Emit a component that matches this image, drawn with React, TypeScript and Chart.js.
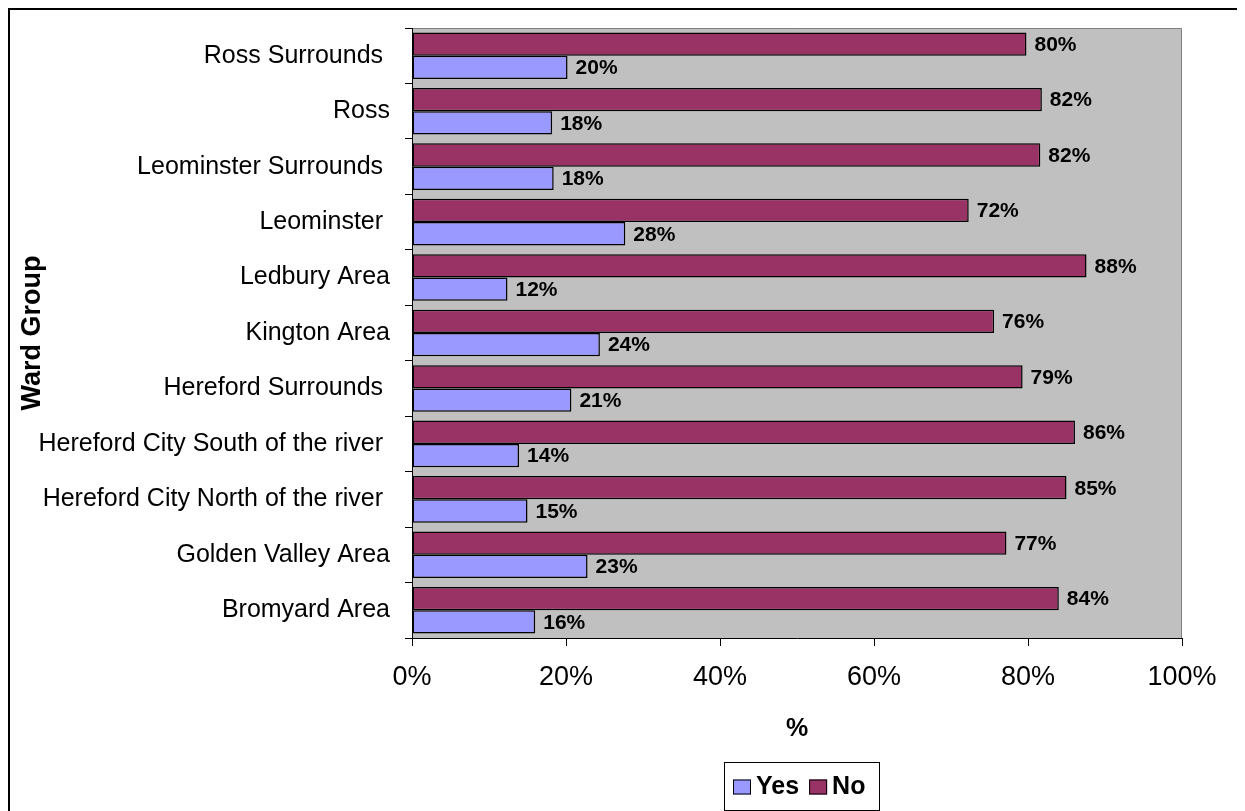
import React, { useEffect, useRef } from "react";
import { Chart, registerables } from "chart.js";

Chart.register(...registerables);

const categories = [
  "Ross Surrounds ",
  "Ross",
  "Leominster Surrounds ",
  "Leominster ",
  "Ledbury Area",
  "Kington Area",
  "Hereford Surrounds ",
  "Hereford City South of the river ",
  "Hereford City North of the river ",
  "Golden Valley Area",
  "Bromyard Area",
];
const yesValues = [20.2, 18.2, 18.4, 27.7, 12.4, 24.4, 20.7, 13.9, 15.0, 22.8, 16.0];
const noValues = [79.8, 81.8, 81.6, 72.3, 87.6, 75.6, 79.3, 86.1, 85.0, 77.2, 84.0];
const xTickValues = [0, 20, 40, 60, 80, 100];
const seriesYes = "Yes";
const seriesNo = "No";
const yTitle = "Ward Group";
const xTitle = "%";

const FONT = "'Liberation Sans', Arial, Helvetica, sans-serif";
const YES_COLOR = "#9999FF";
const NO_COLOR = "#993366";

const plotBackground = {
  id: "plotBackground",
  beforeDraw(chart: any) {
    const { ctx, chartArea: a } = chart;
    ctx.save();
    ctx.fillStyle = "#C0C0C0";
    ctx.fillRect(a.left, a.top, a.right - a.left, a.bottom - a.top);
    ctx.strokeStyle = "#808080";
    ctx.lineWidth = 1;
    ctx.beginPath();
    ctx.moveTo(a.left, a.top + 0.5);
    ctx.lineTo(a.right - 0.5, a.top + 0.5);
    ctx.lineTo(a.right - 0.5, a.bottom);
    ctx.stroke();
    ctx.restore();
  },
};

const dataLabels = {
  id: "dataLabels",
  afterDatasetsDraw(chart: any) {
    const ctx = chart.ctx;
    ctx.save();
    ctx.font = `bold 21px ${FONT}`;
    ctx.fillStyle = "#000";
    ctx.textAlign = "left";
    ctx.textBaseline = "middle";
    chart.data.datasets.forEach((ds: any, i: number) => {
      const meta = chart.getDatasetMeta(i);
      meta.data.forEach((el: any, j: number) => {
        const v = ds.data[j] as number;
        ctx.fillText(Math.round(v) + "%", el.x + 8, el.y + 1);
      });
    });
    ctx.restore();
  },
};

const frameAndLegend = {
  id: "frameAndLegend",
  afterDraw(chart: any) {
    const { ctx, chartArea: a, width, height } = chart;
    ctx.save();
    // outer frame
    ctx.strokeStyle = "#000";
    ctx.lineWidth = 2;
    ctx.strokeRect(1, 1, width - 2, height - 2);

    // legend (Yes first, then No)
    const items = [...chart.data.datasets].reverse();
    ctx.font = `bold 25px ${FONT}`;
    const padL = 9;
    const box = 18;
    const boxH = 15;
    const gapText = 5;
    const gapItem = 10;
    const padR = 14;
    let contentW = padL + padR;
    items.forEach((ds: any, i: number) => {
      contentW += box + gapText + ctx.measureText(ds.label).width;
      if (i < items.length - 1) contentW += gapItem;
    });
    const cx = (a.left + a.right) / 2 + 5;
    const top = a.bottom + 124;
    const h = 48;
    const left = Math.round(cx - contentW / 2);
    ctx.strokeStyle = "#000";
    ctx.lineWidth = 1;
    ctx.strokeRect(left + 0.5, top + 0.5, Math.round(contentW), h);
    const cy = top + h / 2;
    let x = left + padL;
    ctx.textAlign = "left";
    ctx.textBaseline = "middle";
    items.forEach((ds: any) => {
      ctx.fillStyle = ds.backgroundColor;
      ctx.fillRect(x, cy - boxH / 2 + 1, box, boxH);
      ctx.strokeStyle = "#000";
      ctx.strokeRect(x + 0.5, cy - boxH / 2 + 1.5, box - 1, boxH - 1);
      x += box + gapText;
      ctx.fillStyle = "#000";
      ctx.fillText(ds.label, x, cy + 1);
      x += ctx.measureText(ds.label).width + gapItem;
    });
    ctx.restore();
  },
};

export default function App() {
  const canvasRef = useRef<HTMLCanvasElement | null>(null);

  useEffect(() => {
    document.documentElement.style.overflow = "hidden";
    const canvas = canvasRef.current;
    if (!canvas) return;
    const chart = new Chart(canvas, {
      type: "bar",
      data: {
        labels: categories,
        datasets: [
          {
            label: seriesNo,
            data: noValues,
            backgroundColor: NO_COLOR,
            borderColor: "#000",
            borderWidth: 1.5,
            borderSkipped: false,
            categoryPercentage: 0.84,
            barPercentage: 1,
          },
          {
            label: seriesYes,
            data: yesValues,
            backgroundColor: YES_COLOR,
            borderColor: "#000",
            borderWidth: 1.5,
            borderSkipped: false,
            categoryPercentage: 0.84,
            barPercentage: 1,
          },
        ],
      },
      options: {
        indexAxis: "y",
        animation: false,
        responsive: false,
        devicePixelRatio: 1,
        layout: { padding: { top: 20, right: 60, left: 0, bottom: 0 } },
        plugins: {
          legend: { display: false },
          tooltip: { enabled: false },
        },
        scales: {
          x: {
            type: "linear",
            position: "bottom",
            min: 0,
            max: 100,
            afterBuildTicks: (s: any) => {
              s.ticks = xTickValues.map((v) => ({ value: v }));
            },
            ticks: {
              callback: (v: any) => v + "%",
              font: { size: 27, family: FONT },
              color: "#000",
              padding: 15,
              maxRotation: 0,
            },
            grid: {
              drawOnChartArea: false,
              drawTicks: true,
              tickLength: 8,
              color: "#000",
            },
            border: { display: true, color: "#000", width: 1 },
            title: {
              display: true,
              text: xTitle,
              color: "#000",
              font: { size: 25, weight: "bold", family: FONT },
              padding: { top: 0, bottom: 74 },
            },
            afterFit: (s: any) => {
              s.height = 180;
              s.paddingLeft = 0;
            },
          },
          y: {
            type: "category",
            position: "left",
            ticks: {
              font: { size: 25, family: FONT },
              color: "#000",
              padding: 15,
              autoSkip: false,
            },
            grid: {
              drawOnChartArea: false,
              drawTicks: true,
              tickLength: 7,
              color: "#000",
              offset: true,
            },
            border: { display: true, color: "#000", width: 1 },
            title: {
              display: true,
              text: yTitle,
              color: "#000",
              font: { size: 27, weight: "bold", family: FONT },
              padding: { top: 8, bottom: 0 },
            },
            afterFit: (s: any) => {
              s.width = 404;
              s.paddingTop = 0;
              s.paddingBottom = 0;
            },
          },
        },
      } as any,
      plugins: [plotBackground, dataLabels, frameAndLegend],
    });
    return () => chart.destroy();
  }, []);

  return (
    <div style={{ width: 1234, height: 810 }}>
      <canvas ref={canvasRef} width={1234} height={810} style={{ display: "block" }} />
    </div>
  );
}
